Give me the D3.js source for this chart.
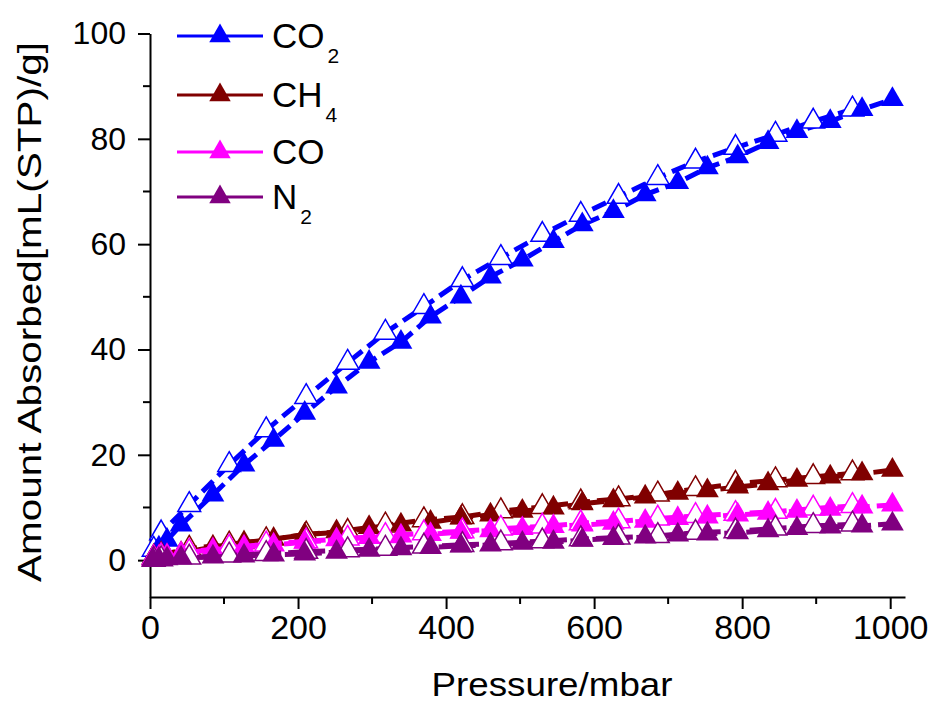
<!DOCTYPE html>
<html lang="en">
<head>
<meta charset="UTF-8">
<title>Gas adsorption isotherms</title>
<script src="https://d3js.org/d3.v7.min.js"></script>
<style>
  body { margin: 0; background: #fff; }
  text { font-family: "Liberation Sans", Arial, sans-serif; fill: #000; }
</style>
</head>
<body>
<script>
// pressure points (mbar)
var pAds = [4, 12, 23, 42, 85, 127, 167, 209, 252, 296, 339, 379, 420, 460, 503, 545, 584, 626, 669, 713, 753, 794, 835, 874, 919, 962, 1003];
var pDes = [949, 896, 845, 791, 737, 686, 633, 582, 530, 474, 422, 370, 318, 267, 211, 157, 107, 53, 15, 5];

// adsorbed amount, filled = adsorption, open = desorption
var co2Ads = [0.4, 2.3, 3.8, 6.7, 12.4, 18.1, 22.8, 27.9, 32.9, 37.6, 41.4, 46.2, 50.0, 53.8, 57.0, 60.5, 63.7, 66.2, 69.4, 71.7, 74.5, 76.6, 79.3, 81.4, 83.3, 85.6, 87.5];
var co2Des = [85.6, 83.3, 80.8, 78.3, 75.7, 72.6, 69.0, 65.6, 61.8, 57.4, 53.2, 48.1, 43.2, 37.5, 31.0, 24.7, 18.1, 10.5, 5.1, 2.0];
var ch4Ads = [0.2, 0.5, 0.8, 1.3, 2.5, 3.3, 4.0, 4.8, 5.4, 6.2, 6.7, 7.2, 8.0, 8.6, 9.3, 9.9, 10.7, 11.3, 12.0, 12.7, 13.2, 13.9, 14.5, 15.2, 15.8, 16.4, 17.1];
var ch4Des = [16.5, 15.8, 15.2, 14.5, 13.5, 12.5, 11.6, 11.0, 10.1, 9.3, 8.2, 7.6, 6.6, 5.4, 4.9, 3.8, 3.0, 2.2, 1.0, 0.5];
var coAds = [0.3, 0.6, 0.9, 1.3, 2.0, 2.5, 2.9, 3.4, 3.9, 4.3, 4.6, 4.9, 5.3, 5.6, 6.0, 6.4, 6.7, 7.0, 7.4, 7.9, 8.2, 8.6, 8.9, 9.3, 9.7, 10.1, 10.5];
var coDes = [10.3, 9.8, 9.2, 8.8, 8.4, 7.9, 7.4, 7.0, 6.4, 6.0, 5.5, 5.1, 4.6, 4.1, 3.6, 3.0, 2.4, 1.6, 0.8, 0.4];
var n2Ads = [0.1, 0.2, 0.3, 0.4, 0.6, 0.8, 1.0, 1.2, 1.5, 1.9, 2.2, 2.4, 2.7, 2.9, 3.2, 3.4, 3.8, 4.1, 4.4, 4.8, 5.0, 5.2, 5.6, 6.0, 6.3, 6.5, 6.9];
var n2Des = [6.8, 6.5, 6.0, 5.5, 5.2, 4.6, 4.3, 4.0, 3.6, 3.2, 2.9, 2.6, 2.2, 1.9, 1.6, 1.2, 0.9, 0.5, 0.2, 0.1];

var gasNames = ["CO", "CH", "CO", "N"];
var gasSubs = ["2", "4", "", "2"];
var gasColors = ["#0000ff", "#800000", "#ff00ff", "#800080"];
var xTicks = [0, 200, 400, 600, 800, 1000];
var yTicks = [0, 20, 40, 60, 80, 100];

var width = 935, height = 704;
var gases = [
    {ads: co2Ads, des: co2Des},
    {ads: ch4Ads, des: ch4Des},
    {ads: coAds, des: coDes},
    {ads: n2Ads, des: n2Des}
];
gases.forEach(function (g, i) {
    g.name = gasNames[i];
    g.sub = gasSubs[i];
    g.color = gasColors[i];
});

var svg = d3.select("body").append("svg")
    .attr("width", width)
    .attr("height", height);

var xScale = d3.scaleLinear().domain([0, 1020]).range([150, 905]);
var yScale = d3.scaleLinear().domain([-7, 100]).range([597, 33.5]);

// axes
var xAxis = d3.axisBottom(xScale).tickValues(xTicks).tickFormat(d3.format("d"))
    .tickSize(12).tickSizeOuter(0).tickPadding(6);
var yAxis = d3.axisLeft(yScale).tickValues(yTicks).tickFormat(d3.format("d"))
    .tickSize(12).tickSizeOuter(0).tickPadding(12);

var gx = svg.append("g").attr("transform", "translate(0,597)").call(xAxis);
gx.selectAll("text").attr("font-size", 34).attr("fill", "#000");
var gy = svg.append("g").attr("transform", "translate(150,0)").call(yAxis);
gy.selectAll("text").attr("font-size", 32).attr("fill", "#000");
[gx, gy].forEach(function (g) {
    g.select(".domain").attr("stroke", "#000").attr("stroke-width", 2);
    g.selectAll(".tick line").attr("stroke", "#000").attr("stroke-width", 2);
});

// minor ticks
svg.append("g").selectAll("line")
    .data(d3.range(100, 1001, 200))
    .enter().append("line")
    .attr("x1", d => xScale(d)).attr("x2", d => xScale(d))
    .attr("y1", 597).attr("y2", 604)
    .attr("stroke", "#000").attr("stroke-width", 2);
svg.append("g").selectAll("line")
    .data(d3.range(10, 100, 20))
    .enter().append("line")
    .attr("x1", 150).attr("x2", 143)
    .attr("y1", d => yScale(d)).attr("y2", d => yScale(d))
    .attr("stroke", "#000").attr("stroke-width", 2);

// axis titles
svg.append("text")
    .attr("x", 552).attr("y", 696)
    .attr("text-anchor", "middle")
    .attr("font-size", 33)
    .attr("textLength", 241)
    .attr("lengthAdjust", "spacingAndGlyphs")
    .text("Pressure/mbar");
svg.append("text")
    .attr("transform", "translate(41,312) rotate(-90)")
    .attr("text-anchor", "middle")
    .attr("font-size", 33)
    .attr("textLength", 540)
    .attr("lengthAdjust", "spacingAndGlyphs")
    .text("Amount Absorbed[mL(STP)/g]");

// series
var line = d3.line().x(d => xScale(d[0])).y(d => yScale(d[1]));
var tri = d3.symbol().type(d3.symbolTriangle).size(225);

var plot = svg.append("g");
gases.forEach(function (g) {
    var adsPts = pAds.map((p, i) => [p, g.ads[i]]);
    var desPts = pDes.map((p, i) => [p, g.des[i]]);

    plot.append("path").datum(desPts)
        .attr("d", line)
        .attr("fill", "none")
        .attr("stroke", g.color)
        .attr("stroke-width", 5)
        .attr("stroke-dasharray", "15,7");
    plot.append("path").datum(adsPts)
        .attr("d", line)
        .attr("fill", "none")
        .attr("stroke", g.color)
        .attr("stroke-width", 5)
        .attr("stroke-dasharray", "15,7");

    plot.append("g").selectAll("path")
        .data(desPts)
        .enter().append("path")
        .attr("d", tri)
        .attr("transform", d => "translate(" + xScale(d[0]) + "," + yScale(d[1]) + ")")
        .attr("fill", "#fff")
        .attr("stroke", g.color)
        .attr("stroke-width", 1.5);
    plot.append("g").selectAll("path")
        .data(adsPts)
        .enter().append("path")
        .attr("d", tri)
        .attr("transform", d => "translate(" + xScale(d[0]) + "," + yScale(d[1]) + ")")
        .attr("fill", g.color);
});

// legend
var legendY = [36, 95, 152, 197];
var legend = svg.append("g");
gases.forEach(function (g, i) {
    var row = legend.append("g").attr("transform", "translate(0," + legendY[i] + ")");
    row.append("line").attr("x1", 177).attr("x2", 263)
        .attr("y1", 0).attr("y2", 0)
        .attr("stroke", g.color).attr("stroke-width", 3);
    row.append("path")
        .attr("d", d3.symbol().type(d3.symbolTriangle).size(200))
        .attr("transform", "translate(220,0)")
        .attr("fill", g.color);
    var t = row.append("text")
        .attr("x", 272).attr("y", 12)
        .attr("font-size", 35);
    t.append("tspan").text(g.name);
    if (g.sub) {
        t.append("tspan").attr("dx", 3).attr("dy", 15).attr("font-size", 21).text(g.sub);
    }
});
</script>
</body>
</html>
